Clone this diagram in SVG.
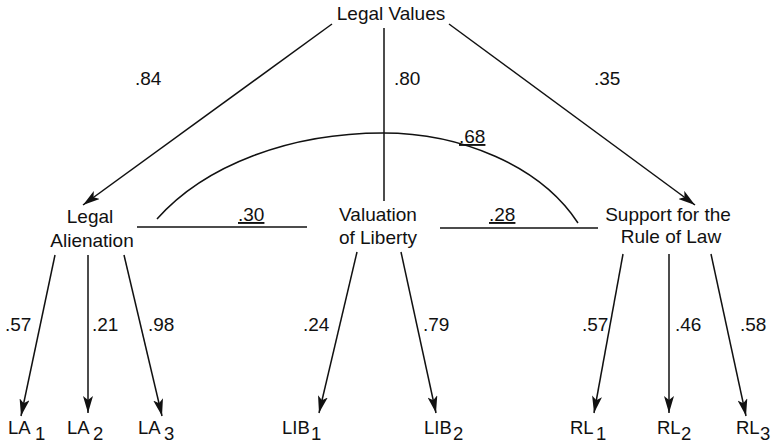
<svg xmlns="http://www.w3.org/2000/svg" width="772" height="447" viewBox="0 0 772 447">
<style>
text{font-family:"Liberation Sans",Arial,Helvetica,sans-serif;font-size:19px;fill:#111}
.c{text-anchor:middle}
.u{text-decoration:underline}
.s{font-size:18.5px}
.ln{stroke:#111;stroke-width:1.5;fill:none}
.ar{marker-end:url(#ah)}
</style>
<defs>
<marker id="ah" viewBox="0 0 17 10" refX="17" refY="5" markerWidth="17" markerHeight="10" markerUnits="userSpaceOnUse" orient="auto">
<path d="M0,0 L17,5 L0,10 L4,5 Z" fill="#111"/>
</marker>
</defs>
<rect width="772" height="447" fill="#fff"/>
<g id="connectors">
<line class="ln ar" x1="332" y1="24" x2="83" y2="205"/>
<line class="ln" x1="384" y1="28" x2="384" y2="201"/>
<line class="ln ar" x1="449" y1="24" x2="695" y2="205"/>
<path class="ln" d="M157,219 C205,165 290,133 383,133 C460,133 540,165 578,223"/>
<line class="ln" x1="137" y1="227" x2="307" y2="227"/>
<line class="ln" x1="440" y1="228" x2="598" y2="228"/>
<line class="ln ar" x1="55" y1="255" x2="21" y2="416"/>
<line class="ln ar" x1="88" y1="255" x2="88" y2="413"/>
<line class="ln ar" x1="124" y1="255" x2="162" y2="416"/>
<line class="ln ar" x1="357" y1="252" x2="319" y2="413"/>
<line class="ln ar" x1="401" y1="252" x2="436" y2="413"/>
<line class="ln ar" x1="623" y1="254" x2="594" y2="413"/>
<line class="ln ar" x1="669" y1="254" x2="669" y2="413"/>
<line class="ln ar" x1="711" y1="254" x2="746" y2="416"/>
</g>
<g id="labels">
<text x="135" y="85">.84</text>
<text x="394" y="85">.80</text>
<text x="594" y="85">.35</text>
<text class="u" x="459" y="143">.68</text>
<text class="u" x="238" y="221">.30</text>
<text class="u" x="489" y="221">.28</text>
<text x="5" y="331">.57</text>
<text x="92" y="331">.21</text>
<text x="148" y="331">.98</text>
<text x="303" y="331">.24</text>
<text x="423" y="331">.79</text>
<text x="582" y="331">.57</text>
<text x="675" y="331">.46</text>
<text x="740" y="331">.58</text>
</g>
<g id="legal-values"><text class="c" x="391" y="20">Legal Values</text></g>
<g id="legal-alienation"><text class="c" x="90" y="223">Legal</text><text class="c" x="92" y="247">Alienation</text></g>
<g id="valuation-of-liberty"><text class="c" x="378" y="221">Valuation</text><text class="c" x="378" y="244">of Liberty</text></g>
<g id="support-rule-of-law"><text class="c" x="668" y="221">Support for the</text><text class="c" x="671" y="243">Rule of Law</text></g>
<g id="la1"><text class="s" x="8" y="434">LA<tspan x="35" y="440">1</tspan></text></g>
<g id="la2"><text class="s" x="67" y="434">LA<tspan x="93" y="440">2</tspan></text></g>
<g id="la3"><text class="s" x="138" y="434">LA<tspan x="164" y="440">3</tspan></text></g>
<g id="lib1"><text class="s" x="282" y="434">LIB<tspan x="311" y="440">1</tspan></text></g>
<g id="lib2"><text class="s" x="424" y="434">LIB<tspan x="453" y="440">2</tspan></text></g>
<g id="rl1"><text class="s" x="570" y="434">RL<tspan x="596" y="440">1</tspan></text></g>
<g id="rl2"><text class="s" x="657" y="434">RL<tspan x="681" y="440">2</tspan></text></g>
<g id="rl3"><text class="s" x="736" y="434">RL<tspan x="760" y="440">3</tspan></text></g>
</svg>
